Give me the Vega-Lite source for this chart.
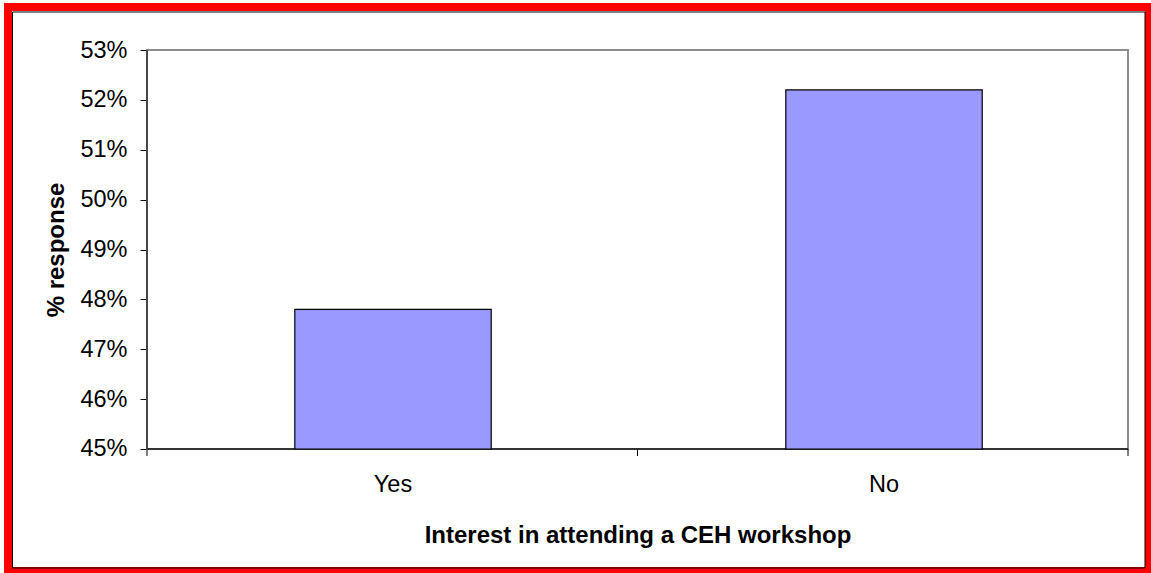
{
  "$schema": "https://vega.github.io/schema/vega-lite/v6.json",
  "width": 1141,
  "height": 564,
  "autosize": {"type": "none"},
  "padding": {"left": 8, "top": 7, "right": 2, "bottom": 2},
  "background": "white",
  "config": {
    "view": {"stroke": "#FF0000", "strokeWidth": 8},
    "font": "Liberation Sans"
  },
  "data": {"values": [
    {"answer": "Yes", "pct": 47.8},
    {"answer": "No", "pct": 52.2}
  ]},
  "layer": [
    {
      "transform": [{"filter": "datum.answer === 'Yes'"}],
      "layer": [
        {
          "mark": {"type": "rect", "filled": false, "color": "black", "strokeWidth": 1},
          "encoding": {
            "x": {"datum": -0.274206, "type": "quantitative", "scale": {"domain": [-0.28338, 2.042813], "nice": false, "zero": false}, "axis": null},
            "x2": {"datum": 2.034663},
            "y": {"datum": 42.61404, "type": "quantitative", "scale": {"domain": [42.55388, 53.86216], "nice": false, "zero": false}},
            "y2": {"datum": 53.76191}
          }
        },
        {
          "mark": {"type": "rect", "filled": false, "color": "#8c8c8c", "strokeWidth": 2},
          "encoding": {
            "x": {"datum": 0, "type": "quantitative", "scale": {"domain": [-0.28338, 2.042813], "nice": false, "zero": false}, "axis": null},
            "x2": {"datum": 2},
            "y": {"datum": 45, "type": "quantitative", "scale": {"domain": [42.55388, 53.86216], "nice": false, "zero": false}},
            "y2": {"datum": 53}
          }
        },
        {
          "mark": {"type": "rule", "color": "black", "strokeWidth": 1},
          "encoding": {
            "x": {"datum": 0, "type": "quantitative", "scale": {"domain": [-0.28338, 2.042813], "nice": false, "zero": false}, "axis": null},
            "y": {"datum": 44.8596, "type": "quantitative", "scale": {"domain": [42.55388, 53.86216], "nice": false, "zero": false}},
            "y2": {"datum": 53}
          }
        },
        {
          "mark": {"type": "rule", "color": "#333333", "strokeWidth": 2},
          "encoding": {
            "x": {"datum": 0, "type": "quantitative", "scale": {"domain": [-0.28338, 2.042813], "nice": false, "zero": false}, "axis": null},
            "x2": {"datum": 2},
            "y": {"datum": 45, "type": "quantitative", "scale": {"domain": [42.55388, 53.86216], "nice": false, "zero": false}}
          }
        },
        {
          "mark": {"type": "rule", "color": "black", "strokeWidth": 1},
          "encoding": {
            "x": {"datum": 1, "type": "quantitative", "scale": {"domain": [-0.28338, 2.042813], "nice": false, "zero": false}, "axis": null},
            "y": {"datum": 44.8596, "type": "quantitative", "scale": {"domain": [42.55388, 53.86216], "nice": false, "zero": false}},
            "y2": {"datum": 45}
          }
        },
        {
          "mark": {"type": "rule", "color": "black", "strokeWidth": 1},
          "encoding": {
            "x": {"datum": 2, "type": "quantitative", "scale": {"domain": [-0.28338, 2.042813], "nice": false, "zero": false}, "axis": null},
            "y": {"datum": 44.8596, "type": "quantitative", "scale": {"domain": [42.55388, 53.86216], "nice": false, "zero": false}},
            "y2": {"datum": 45}
          }
        }
      ]
    },
    {
      "mark": {"type": "bar", "color": "#9999FF", "stroke": "black", "strokeWidth": 1.2},
      "encoding": {
        "x": {
          "field": "answer",
          "type": "nominal",
          "sort": ["Yes", "No"],
          "scale": {"paddingInner": 0.6, "paddingOuter": 0.461914, "align": 0.6323},
          "axis": {
            "title": "Interest in attending a CEH workshop",
            "orient": "bottom",
            "offset": -122,
            "domain": false,
            "ticks": false,
            "labelAngle": 0,
            "labelFontSize": 23.5,
            "labelColor": "black",
            "labelPadding": 42,
            "labelBaseline": "alphabetic",
            "titleFontSize": 24,
            "titleFontWeight": "bold",
            "titleColor": "black",
            "titleX": 629.5,
            "titleY": 93.5,
            "titleAlign": "center",
            "titleBaseline": "alphabetic"
          }
        },
        "y": {
          "field": "pct",
          "type": "quantitative",
          "scale": {"domain": [42.55388, 53.86216], "nice": false, "zero": false},
          "axis": {
            "title": "% response",
            "orient": "left",
            "offset": -139,
            "values": [45, 46, 47, 48, 49, 50, 51, 52, 53],
            "labelExpr": "datum.value + '%'",
            "domain": false,
            "grid": false,
            "tickSize": 7,
            "tickColor": "black",
            "labelFontSize": 23.5,
            "labelColor": "black",
            "labelPadding": 13,
            "titleFontSize": 24,
            "titleFontWeight": "bold",
            "titleColor": "black",
            "titleX": -83.5,
            "titleY": 242.5,
            "titleAngle": -90,
            "titleAlign": "center",
            "titleBaseline": "alphabetic"
          }
        },
        "y2": {"datum": 45}
      }
    }
  ],
  "resolve": {"scale": {"x": "independent"}}
}
